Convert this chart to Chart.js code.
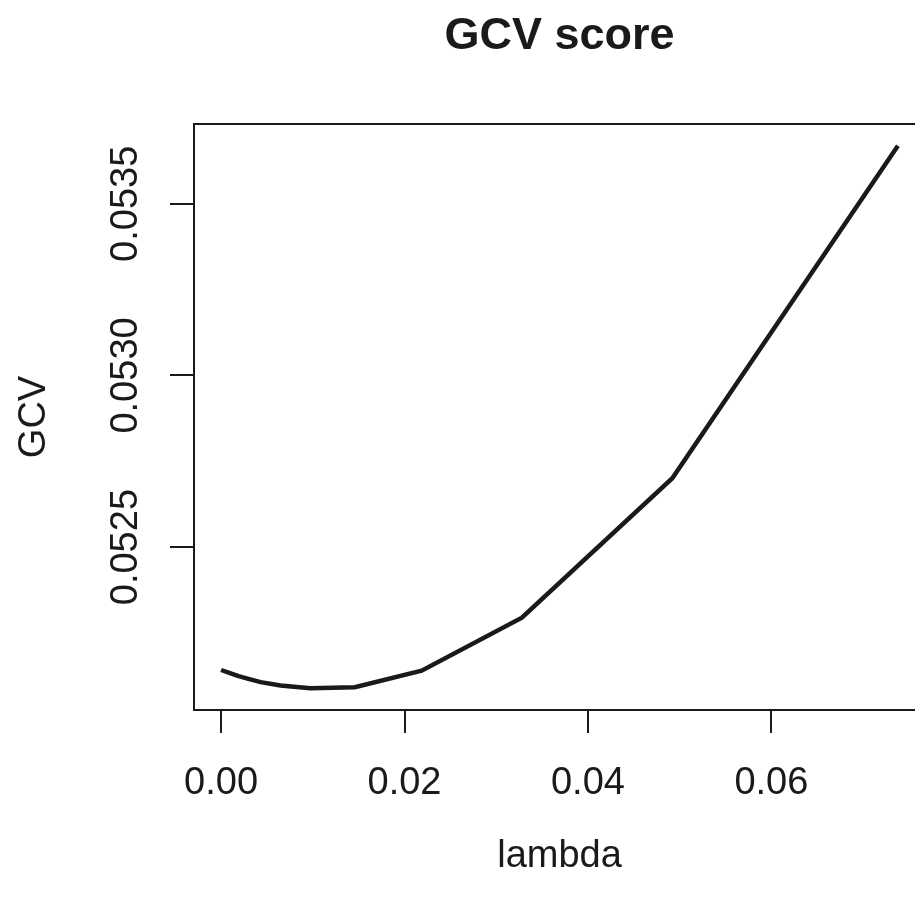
<!DOCTYPE html>
<html>
<head>
<meta charset="utf-8">
<title>GCV score</title>
<script src="https://cdn.jsdelivr.net/npm/chart.js@4/dist/chart.umd.min.js"></script>
<style>
  html, body { margin: 0; padding: 0; background: #fff; overflow: hidden; }
  canvas { display: block; }
</style>
</head>
<body>
<canvas id="gcvChart" width="935" height="899"></canvas>
<script>
// lambda grid and the GCV score at each lambda
const lambda = [0, 0.00128, 0.00192, 0.00288, 0.00432, 0.00648, 0.00972, 0.01458, 0.02187, 0.0328, 0.0492, 0.0738]
const gcv = [0.052142, 0.05213, 0.052124, 0.052117, 0.0521067, 0.0520966, 0.0520887, 0.0520916, 0.05214, 0.0522944, 0.0527007, 0.0536693]

const xTicks = [0, 0.02, 0.04, 0.06]
const xTickLabels = ['0.00', '0.02', '0.04', '0.06']
const yTicks = [0.0525, 0.053, 0.0535]
const yTickLabels = ['0.0525', '0.0530', '0.0535']

const FONT = '"Liberation Sans", Arial, Helvetica, sans-serif'
const INK = '#1a1a1a'

// R style axis limits: data range plus 4% on each side
function rRange (arr) {
  const lo = Math.min(...arr)
  const hi = Math.max(...arr)
  const pad = (hi - lo) * 0.04
  return [lo - pad, hi + pad]
}
const [xMin, xMax] = rRange(lambda)
const [yMin, yMax] = rRange(gcv)

const points = lambda.map((x, i) => ({ x: x, y: gcv[i] }))

// box, main title and rotated y tick labels, like base R graphics
const rPlot = {
  id: 'rPlot',
  afterDraw (chart) {
    const { ctx, chartArea: a } = chart
    ctx.save()
    ctx.strokeStyle = INK
    ctx.lineWidth = 2
    ctx.strokeRect(a.left, a.top, a.right - a.left, a.bottom - a.top)

    ctx.fillStyle = INK
    ctx.font = 'bold 45px ' + FONT
    ctx.textAlign = 'center'
    ctx.textBaseline = 'alphabetic'
    ctx.fillText('GCV score', (a.left + a.right) / 2, 49)

    const y = chart.scales.y
    ctx.font = '38px ' + FONT
    yTicks.forEach((v, i) => {
      ctx.save()
      ctx.translate(137, y.getPixelForValue(v))
      ctx.rotate(-Math.PI / 2)
      ctx.fillText(yTickLabels[i], 0, 0)
      ctx.restore()
    })
    ctx.restore()
  }
}

const chartGCV = new Chart(document.getElementById('gcvChart').getContext('2d'), {
  type: 'line',
  data: {
    datasets: [
      {
        label: 'GCV',
        data: points,
        borderColor: INK,
        borderWidth: 4.5,
        pointRadius: 0,
        tension: 0,
        fill: false
      }
    ]
  },
  options: {
    responsive: false,
    animation: false,
    layout: { padding: { top: 124, right: 10, left: 0, bottom: 0 } },
    plugins: {
      legend: { display: false },
      title: { display: false },
      tooltip: { enabled: false }
    },
    scales: {
      x: {
        type: 'linear',
        min: xMin,
        max: xMax,
        afterFit: (s) => { s.height = 189 },
        afterBuildTicks: (s) => { s.ticks = xTicks.map((v) => ({ value: v })) },
        border: { display: false },
        grid: { drawOnChartArea: false, drawTicks: true, tickLength: 23, color: INK, lineWidth: 2 },
        ticks: {
          color: INK,
          font: { family: FONT, size: 38 },
          padding: 28,
          maxRotation: 0,
          callback: (v) => xTickLabels[xTicks.indexOf(v)]
        },
        title: {
          display: true,
          text: 'lambda',
          color: INK,
          font: { family: FONT, size: 38, lineHeight: 1.2 },
          padding: { top: 0, bottom: 20 }
        }
      },
      y: {
        type: 'linear',
        min: yMin,
        max: yMax,
        afterFit: (s) => { s.width = 194 },
        afterBuildTicks: (s) => { s.ticks = yTicks.map((v) => ({ value: v })) },
        border: { display: false },
        grid: { drawOnChartArea: false, drawTicks: true, tickLength: 24, color: INK, lineWidth: 2 },
        ticks: {
          display: false
        },
        title: {
          display: true,
          text: 'GCV',
          color: INK,
          font: { family: FONT, size: 38, lineHeight: 1.2 },
          padding: { top: 12, bottom: 0 }
        }
      }
    }
  },
  plugins: [rPlot]
})
</script>
</body>
</html>
